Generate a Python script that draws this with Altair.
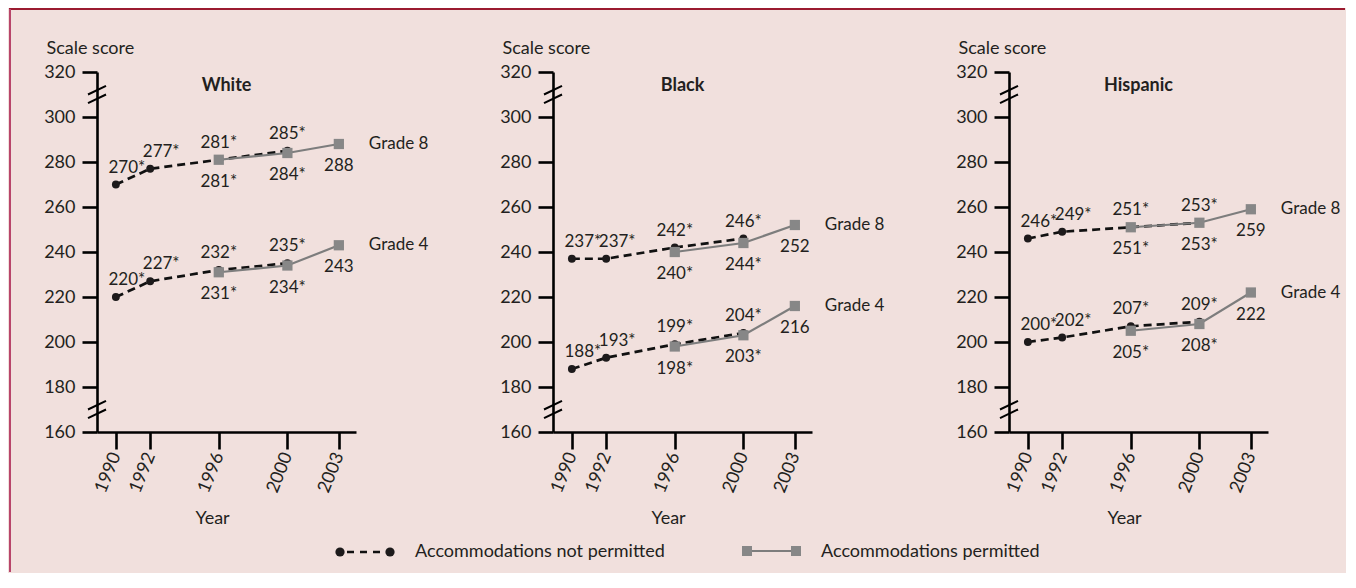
import altair as alt
import pandas as pd

# ---------------- data ----------------
groups = ["White", "Black", "Hispanic"]
years_np = [1990, 1992, 1996, 2000]   # accommodations not permitted
years_p = [1996, 2000, 2003]          # accommodations permitted

np_g8 = {"White": [270, 277, 281, 285], "Black": [237, 237, 242, 246], "Hispanic": [246, 249, 251, 253]}
np_g4 = {"White": [220, 227, 232, 235], "Black": [188, 193, 199, 204], "Hispanic": [200, 202, 207, 209]}
p_g8 = {"White": [281, 284, 288], "Black": [240, 244, 252], "Hispanic": [251, 253, 259]}
p_g4 = {"White": [231, 234, 243], "Black": [198, 203, 216], "Hispanic": [205, 208, 222]}
# significance marker (*) per point
np_star = [True, True, True, True]
p_star = [True, True, False]

year_ticks = [1990, 1992, 1996, 2000, 2003]
score_ticks = [160, 180, 200, 220, 240, 260, 280, 300, 320]
axis_breaks = [310, 170]
legend_labels = ["Accommodations not permitted", "Accommodations permitted"]

# ---------------- style ----------------
FONT = "Lato"
TXT = "#231f20"
BLACK_PT = "#1d1a1b"
GRAY_LINE = "#7d7d7d"
GRAY_PT = "#878787"
BG = "#f1e0dd"
W, H = 259, 360
SPACING = 197
FS = 18

rows = []
for g in groups:
    for grade, npv, pv in (("Grade 8", np_g8[g], p_g8[g]), ("Grade 4", np_g4[g], p_g4[g])):
        for y, v, s in zip(years_np, npv, np_star):
            rows.append(dict(group=g, grade=grade, series="np", year=y, score=v,
                             label=f"{v}{'*' if s else ''}"))
        for y, v, s in zip(years_p, pv, p_star):
            rows.append(dict(group=g, grade=grade, series="p", year=y, score=v,
                             label=f"{v}{'*' if s else ''}"))
df = pd.DataFrame(rows)

xscale = alt.Scale(domain=[1988.9, 2004], nice=False, zero=False)
yscale = alt.Scale(domain=[160, 320], nice=False, zero=False)


def panel(g, first=False):
    d = df[df.group == g]
    base = alt.Chart(d)
    x = alt.X("year:Q", scale=xscale,
              axis=alt.Axis(values=year_ticks, format="d", title="Year", labelAngle=292,
                            titleX=115, titleY=86, titleBaseline="middle", titleAnchor=None,
                            titleFontWeight="normal"))
    y = alt.Y("score:Q", scale=yscale,
              axis=alt.Axis(values=score_ticks, title="Scale score", titleAngle=0,
                            titleAlign="left", titleX=-51, titleY=-19,
                            titleBaseline="alphabetic", titleFontWeight="normal"))

    np_d = base.transform_filter(alt.datum.series == "np")
    p_d = base.transform_filter(alt.datum.series == "p")

    np_line = np_d.mark_line(color="#111111", strokeWidth=2.7, strokeDash=[8, 5]).encode(
        x=x, y=y, detail="grade:N")
    np_pts = np_d.mark_point(shape="circle", filled=True, color=BLACK_PT, size=62, opacity=1).encode(
        x="year:Q", y="score:Q")
    p_line = p_d.mark_line(color=GRAY_LINE, strokeWidth=2.2).encode(
        x="year:Q", y="score:Q", detail="grade:N")
    p_pts = p_d.mark_point(shape="square", filled=True, color=GRAY_PT, size=105, opacity=1).encode(
        x="year:Q", y="score:Q")

    np_lab_early = np_d.transform_filter(alt.datum.year < 1995).mark_text(
        font=FONT, fontSize=17, color=TXT, dx=11, dy=-12, baseline="alphabetic").encode(
        x="year:Q", y="score:Q", text="label:N")
    np_lab_late = np_d.transform_filter(alt.datum.year > 1995).mark_text(
        font=FONT, fontSize=17, color=TXT, dx=0, dy=-12, baseline="alphabetic").encode(
        x="year:Q", y="score:Q", text="label:N")
    p_lab = p_d.mark_text(font=FONT, fontSize=17, color=TXT, dy=27, baseline="alphabetic").encode(
        x="year:Q", y="score:Q", text="label:N")
    grade_lab = p_d.transform_filter(alt.datum.year == 2003).mark_text(
        font=FONT, fontSize=17, color=TXT, dx=30, align="left", baseline="middle").encode(
        x="year:Q", y="score:Q", text="grade:N")

    title = alt.Chart(pd.DataFrame({"t": [g]})).mark_text(
        font=FONT, fontSize=FS, fontWeight="bold", color=TXT, baseline="alphabetic").encode(
        x=alt.value(W / 2), y=alt.value(19), text="t:N")

    brk = pd.DataFrame([dict(b=b, k=k) for b in axis_breaks for k in (-1, 1)])
    brk["y1"] = brk.b + brk.k * 1.9 - 1.9
    brk["y2"] = brk.b + brk.k * 1.9 + 1.9
    breaks = alt.Chart(brk).mark_rule(color="black", strokeWidth=2).encode(
        x=alt.value(-9), x2=alt.value(9), y=alt.Y("y1:Q", scale=yscale), y2="y2:Q")

    layers = [breaks, np_line, np_pts, p_line, p_pts, np_lab_early, np_lab_late, p_lab, grade_lab, title]

    if first:
        leg = pd.DataFrame({"label": legend_labels})
        one = leg.iloc[[0]]
        two = leg.iloc[[1]]
        ly = 480
        # legend: not permitted
        l1_line = alt.Chart(one).mark_rule(color="#111111", strokeWidth=2.7, strokeDash=[7, 6]).encode(
            x=alt.value(250), x2=alt.value(288), y=alt.value(ly))
        l1_a = alt.Chart(one).mark_point(shape="circle", filled=True, color=BLACK_PT, size=85, opacity=1).encode(
            x=alt.value(243), y=alt.value(ly))
        l1_b = alt.Chart(one).mark_point(shape="circle", filled=True, color=BLACK_PT, size=85, opacity=1).encode(
            x=alt.value(293), y=alt.value(ly))
        l1_txt = alt.Chart(one).mark_text(
            font=FONT, fontSize=FS, color=TXT, align="left", baseline="middle").encode(
            x=alt.value(318), y=alt.value(ly), text="label:N")
        # legend: permitted
        l2_line = alt.Chart(two).mark_rule(color=GRAY_LINE, strokeWidth=2.2).encode(
            x=alt.value(650), x2=alt.value(699), y=alt.value(ly - 1))
        l2_a = alt.Chart(two).mark_point(shape="square", filled=True, color=GRAY_PT, size=100, opacity=1).encode(
            x=alt.value(650), y=alt.value(ly - 1))
        l2_b = alt.Chart(two).mark_point(shape="square", filled=True, color=GRAY_PT, size=100, opacity=1).encode(
            x=alt.value(699), y=alt.value(ly - 1))
        l2_txt = alt.Chart(two).mark_text(
            font=FONT, fontSize=FS, color=TXT, align="left", baseline="middle").encode(
            x=alt.value(724), y=alt.value(ly), text="label:N")
        # frame edges (top and left) of the figure box
        top_edge = alt.Chart(one).mark_rule(color="#9b1b30", strokeWidth=2).encode(
            x=alt.value(-88), x2=alt.value(1248), y=alt.value(-63))
        left_edge = alt.Chart(one).mark_rule(color="#b8456a", strokeWidth=2).encode(
            x=alt.value(-87), y=alt.value(-63), y2=alt.value(500))
        layers += [l1_line, l1_a, l1_b, l1_txt, l2_line, l2_a, l2_b, l2_txt, top_edge, left_edge]

    return alt.layer(*layers).properties(width=W, height=H)


charts = [panel(g, first=(i == 0)) for i, g in enumerate(groups)]
chart = alt.hconcat(*charts, spacing=SPACING, bounds="flush").properties(
    background=BG, padding=0
).configure_view(stroke=None).configure_axis(
    grid=False, domainColor="black", domainWidth=2.6, tickColor="black", tickWidth=2.6,
    labelFont=FONT, labelFontSize=FS, labelColor=TXT, titleFont=FONT, titleFontSize=FS,
    titleColor=TXT, labelPadding=7
).configure_axisX(tickSize=17, labelPadding=4).configure_axisY(tickSize=15)

chart.save("out.html", embed_options={"renderer": "svg", "actions": False})
